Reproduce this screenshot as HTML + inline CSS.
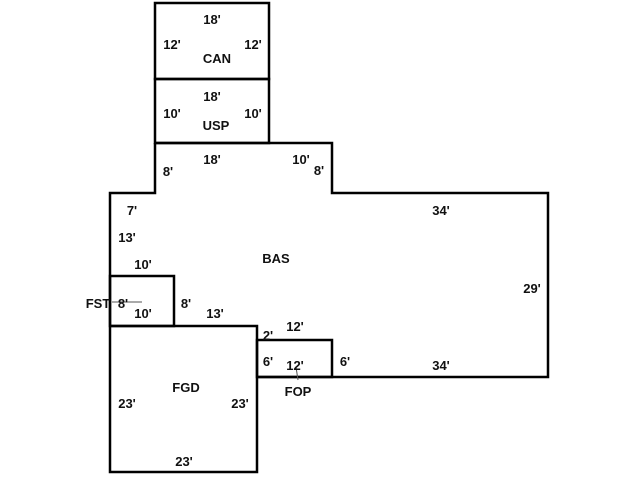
<!DOCTYPE html>
<html><head><style>
body{margin:0;background:#fff;width:640px;height:480px;overflow:hidden}
text{font-family:"Liberation Sans",sans-serif;font-weight:bold;font-size:13px;fill:#111;text-anchor:middle}
</style></head><body>
<svg width="640" height="480" viewBox="0 0 640 480">
<g fill="none" stroke="#000" stroke-width="2.5">
<rect x="155" y="3" width="114" height="76"/>
<rect x="155" y="79" width="114" height="64"/>
<polyline points="155,143 332,143 332,193 548,193 548,377 257,377"/>
<polyline points="155,143 155,193 110,193 110,472 257,472 257,326 110,326"/>
<rect x="110" y="276" width="64" height="50"/>
<rect x="257" y="340" width="75" height="37"/>
</g>
<g stroke="#555" stroke-width="1"><line x1="112" y1="302" x2="142" y2="302"/><line x1="296" y1="367" x2="298" y2="380"/></g>
<text x="212" y="24">18'</text><text x="172" y="49">12'</text><text x="253" y="49">12'</text><text x="217" y="63">CAN</text>
<text x="212" y="101">18'</text><text x="172" y="118">10'</text><text x="253" y="118">10'</text><text x="216" y="130">USP</text>
<text x="212" y="164">18'</text><text x="301" y="164">10'</text><text x="168" y="176">8'</text><text x="319" y="175">8'</text>
<text x="132" y="215">7'</text><text x="441" y="215">34'</text><text x="127" y="242">13'</text>
<text x="276" y="263">BAS</text><text x="143" y="269">10'</text><text x="532" y="293">29'</text>
<text x="98" y="308">FST</text><text x="123" y="308">8'</text><text x="186" y="308">8'</text>
<text x="143" y="318">10'</text><text x="215" y="318">13'</text>
<text x="268" y="340">2'</text><text x="295" y="331">12'</text>
<text x="268" y="366">6'</text><text x="295" y="370">12'</text><text x="345" y="366">6'</text><text x="441" y="370">34'</text>
<text x="186" y="392">FGD</text><text x="298" y="396">FOP</text>
<text x="127" y="408">23'</text><text x="240" y="408">23'</text><text x="184" y="466">23'</text>
</svg>
</body></html>
